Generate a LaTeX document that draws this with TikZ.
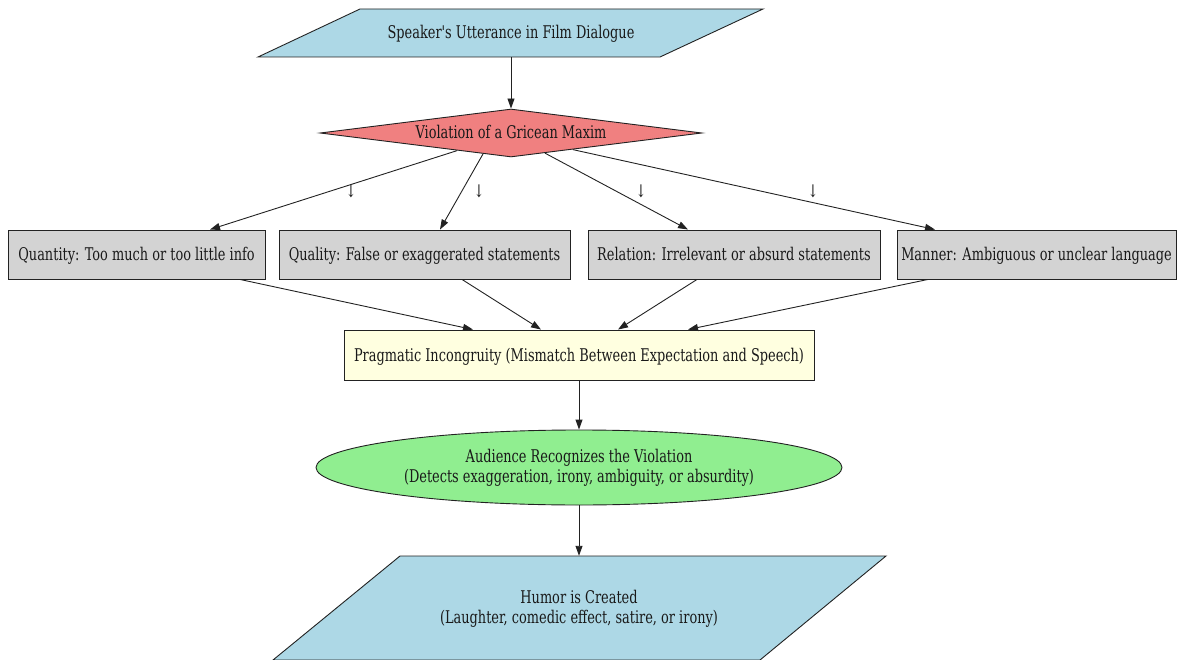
\documentclass[tikz,border=0pt]{standalone}
\usepackage{fontspec}
\setmainfont{DejaVu Serif Condensed}[FakeStretch=0.82]
\newfontfamily\plainq{DejaVu Serif Condensed}[FakeStretch=0.82]
\usetikzlibrary{arrows.meta,shapes.geometric,calc}
\definecolor{lblue}{HTML}{ADD8E6}
\definecolor{lcoral}{HTML}{F08080}
\definecolor{lgray}{HTML}{D3D3D3}
\definecolor{lyellow}{HTML}{FFFFE0}
\definecolor{lgreen}{HTML}{90EE90}
\definecolor{edgec}{HTML}{222222}
\tikzset{
  every node/.style={font=\fontsize{17.5}{20}\selectfont, text=black!90},
  shp/.style={draw=edgec, line width=0.9pt},
  txt/.style={inner sep=0pt, align=center},
  one/.style={text height=15pt, text depth=2pt},
  maxim/.style={shp, fill=lgray, rectangle, inner sep=0pt, minimum height=49pt, one},
  arr/.style={draw=edgec, line width=0.9pt, -{Triangle[length=10pt,width=7pt]}},
  lbl/.style={inner sep=0pt}
}
\begin{document}
\begin{tikzpicture}[x=1pt,y=-1pt]
\useasboundingbox (0,0) rectangle (1177,660);
% top parallelogram
\filldraw[shp, fill=lblue] (360,9) -- (763,9) -- (660,57) -- (258,57) -- cycle;
\node[txt, one] (uttt) at (511,32) {Speaker{\plainq'}s Utterance in Film Dialogue};
\node[inner sep=0pt, minimum height=48pt, minimum width=300pt] (utt) at (511,33) {};
% diamond
\node[shp, fill=lcoral, diamond, aspect=7.96, inner sep=0pt, minimum width=382pt, minimum height=48pt] (dia) at (511,133) {};
\node[txt, one] (diat) at (511,132) {Violation of a Gricean Maxim};
% maxim boxes
\node[maxim, minimum width=257pt] (q1) at (136.5,254.5) {Quantity: Too much or too little info};
\node[maxim, minimum width=291pt] (q2) at (424.5,254.5) {Quality: False or exaggerated statements};
\node[maxim, minimum width=292pt] (q3) at (734,254.5) {Relation: Irrelevant or absurd statements};
\node[maxim, minimum width=279pt] (q4) at (1036.5,254.5) {Manner: Ambiguous or unclear language};
% incongruity
\node[shp, fill=lyellow, rectangle, inner sep=0pt, minimum width=470pt, minimum height=50pt, one] (inc) at (579,355) {Pragmatic Incongruity (Mismatch Between Expectation and Speech)};
% audience
\node[shp, fill=lgreen, ellipse, inner sep=0pt, minimum width=526pt, minimum height=75pt] (aud) at (579,467.5) {};
\node[txt] (audt) at (579,468) {Audience Recognizes the Violation\\(Detects exaggeration, irony, ambiguity, or absurdity)};
% humor parallelogram
\filldraw[shp, fill=lblue] (400,556) -- (886,556) -- (760,660) -- (273,660) -- cycle;
\node[txt] (humt) at (579,609) {Humor is Created\\(Laughter, comedic effect, satire, or irony)};
\node[inner sep=0pt, minimum height=104pt, minimum width=300pt] (hum) at (579,608) {};
% edges
\draw[arr] (utt.south) -- (dia.north);
\draw[arr] ([xshift=-54pt,yshift=6.8pt]dia.south) -- ([xshift=73.5pt]q1.north);
\draw[arr] ([xshift=-28pt,yshift=3.5pt]dia.south) -- ([xshift=15.5pt]q2.north);
\draw[arr] ([xshift=34pt,yshift=4.3pt]dia.south) -- ([xshift=-46pt]q3.north);
\draw[arr] ([xshift=62pt,yshift=7.8pt]dia.south) -- ([xshift=-101.5pt]q4.north);
\node[lbl] (l1) at (351,191) {↓};
\node[lbl] (l2) at (479,191) {↓};
\node[lbl] (l3) at (641,191) {↓};
\node[lbl] (l4) at (813,191) {↓};
\draw[arr] ([xshift=103.5pt]q1.south) -- ([xshift=-106pt]inc.north);
\draw[arr] ([xshift=37.5pt]q2.south) -- ([xshift=-38pt]inc.north);
\draw[arr] ([xshift=-37pt]q3.south) -- ([xshift=39pt]inc.north);
\draw[arr] ([xshift=-108.5pt]q4.south) -- ([xshift=109pt]inc.north);
\draw[arr] (inc.south) -- (aud.north);
\draw[arr] (aud.south) -- (hum.north);
\end{tikzpicture}
\end{document}
